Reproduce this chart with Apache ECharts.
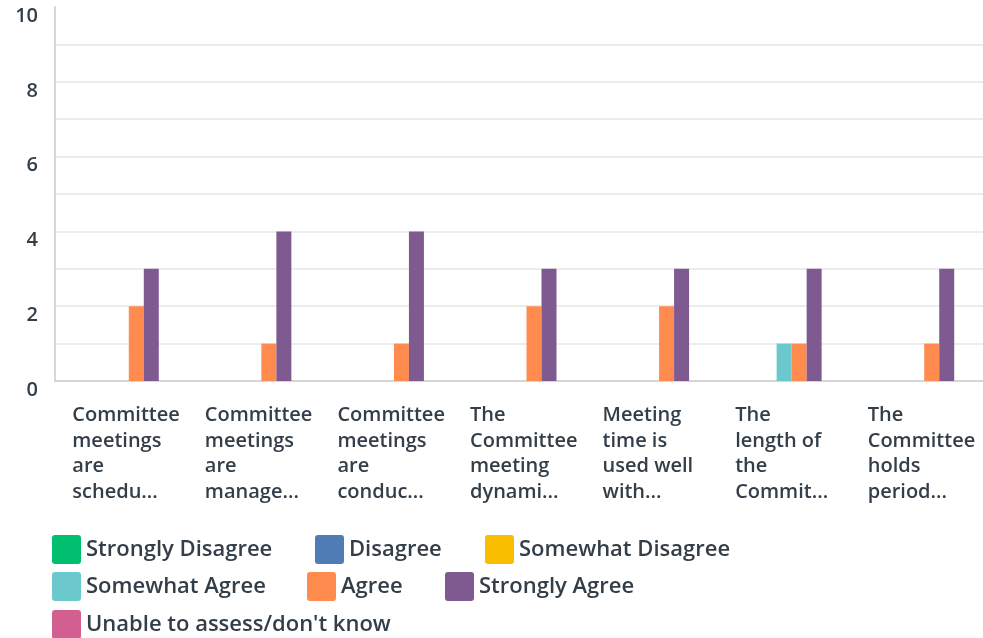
<!DOCTYPE html>
<html>
<head>
<meta charset="utf-8">
<script src="https://cdn.jsdelivr.net/npm/echarts@6/dist/echarts.min.js"></script>
<style>
html,body{margin:0;padding:0;background:#fff;}
#c{width:983px;height:638px;}
</style>
</head>
<body>
<div id="c"></div>
<script>
var categories = [
  "Committee\nmeetings\nare\nschedu...",
  "Committee\nmeetings\nare\nmanage...",
  "Committee\nmeetings\nare\nconduc...",
  "The\nCommittee\nmeeting\ndynami...",
  "Meeting\ntime is\nused well\nwith...",
  "The\nlength of\nthe\nCommit...",
  "The\nCommittee\nholds\nperiod..."
];
var seriesNames = ["Strongly Disagree","Disagree","Somewhat Disagree","Somewhat Agree","Agree","Strongly Agree","Unable to assess/don't know"];
var seriesColors = ["#00BF6F","#507CB6","#F9BE00","#6BC8CD","#FF8B4F","#7F5A90","#D25F90"];
var stronglyDisagree = [0,0,0,0,0,0,0];
var disagree         = [0,0,0,0,0,0,0];
var somewhatDisagree = [0,0,0,0,0,0,0];
var somewhatAgree    = [0,0,0,0,0,1,0];
var agree            = [2,1,1,2,2,1,1];
var stronglyAgree    = [3,4,4,3,3,3,3];
var unableToAssess   = [0,0,0,0,0,0,0];
var yTicks = [0,2,4,6,8,10];

var values = [stronglyDisagree, disagree, somewhatDisagree, somewhatAgree, agree, stronglyAgree, unableToAssess];
var textColor = "#333e48";
var font = "'Open Sans', sans-serif";

var series = seriesNames.map(function(n,i){
  return {
    name:n, type:'bar', data:values[i], barWidth:15, barGap:'0%',
    itemStyle:{color:seriesColors[i]}
  };
});

// legend item placement (left, top) for each series, in the reference's flow layout
var legendPos = [[47,530],[310,530],[480,530],[47,567],[302,567],[440,567],[47,605]];
var iconPath = 'path://M3,0H26A3,3 0 0 1 29,3V26A3,3 0 0 1 26,29H3A3,3 0 0 1 0,26V3A3,3 0 0 1 3,0Z';
var legends = seriesNames.map(function(n,i){
  return {
    left:legendPos[i][0], top:legendPos[i][1], orient:'horizontal',
    itemWidth:29, itemHeight:29,
    icon:iconPath,
    data:[n],
    textStyle:{color:textColor, fontSize:22, fontFamily:font, fontWeight:600},
    selectedMode:false
  };
});

var chart = echarts.init(document.getElementById('c'), null, {renderer:'canvas'});
chart.setOption({
  backgroundColor:'#fff',
  animation:false,
  color:seriesColors,
  legend:legends,
  grid:{left:55, right:0, top:7, bottom:257, containLabel:false},
  xAxis:{
    type:'category', data:categories,
    axisLine:{show:true, lineStyle:{color:'#d6d6d6', width:2}},
    axisTick:{show:false},
    axisLabel:{
      interval:0, margin:22,
      formatter:function(v){ return v.split('\n').map(function(l){return '{a|'+l+'}';}).join('\n'); },
      rich:{a:{width:98, align:'left', color:textColor, fontSize:20, fontFamily:font, fontWeight:600, lineHeight:25.5}}
    }
  },
  yAxis:{
    type:'value', min:0, max:10, interval:1,
    axisLine:{show:true, lineStyle:{color:'#d6d6d6', width:2}},
    axisTick:{show:false},
    splitLine:{show:true, showMaxLine:false, lineStyle:{color:'#ececec', width:2}},
    axisLabel:{
      color:textColor, fontSize:20, fontFamily:font, fontWeight:600, margin:17,
      verticalAlign:'top', lineHeight:18,
      formatter:function(v){ return yTicks.indexOf(v) >= 0 ? String(v) : ''; }
    }
  },
  series:series
});
</script>
</body>
</html>
